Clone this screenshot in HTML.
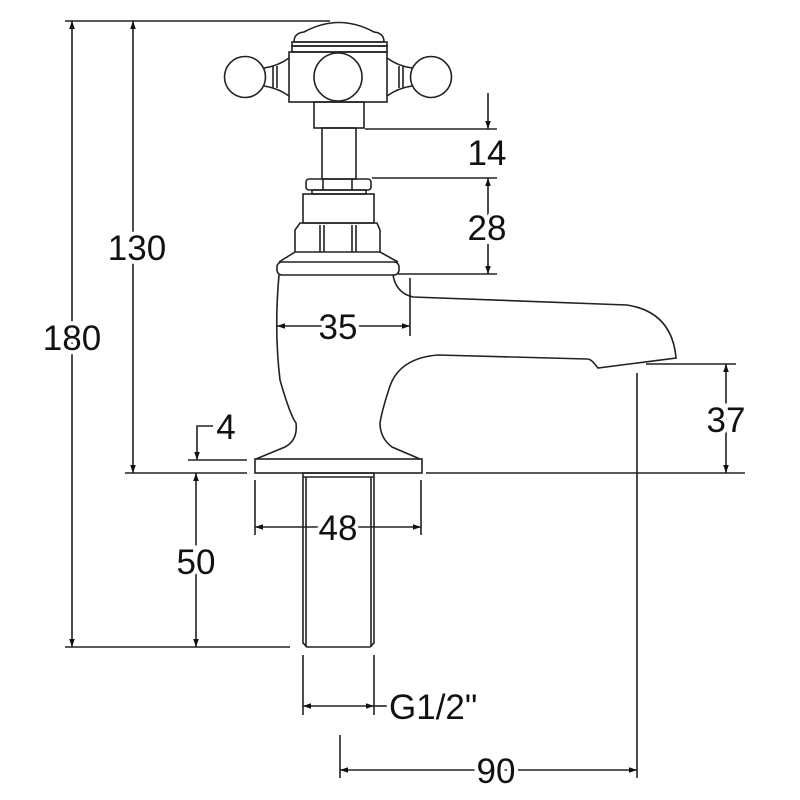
<!DOCTYPE html>
<html><head><meta charset="utf-8"><style>
html,body{margin:0;padding:0;background:#fff}
svg{display:block}
text{font-family:"Liberation Sans",sans-serif;font-size:35px;fill:#111}
</style></head><body>
<svg width="800" height="800" viewBox="0 0 800 800" xmlns="http://www.w3.org/2000/svg">
<defs>
<marker id="a" viewBox="0 0 10 10" refX="10" refY="5" markerWidth="18" markerHeight="8" markerUnits="userSpaceOnUse" orient="auto-start-reverse"><path d="M0,1.5 L10,5 L0,8.5 z" fill="#111"/></marker>
</defs>
<g stroke="#222" stroke-width="1.6" fill="none">
<line x1="65" y1="21" x2="330" y2="21"/>
<line x1="125" y1="473" x2="247" y2="473"/>
<line x1="426" y1="473" x2="745" y2="473"/>
<line x1="65" y1="647" x2="290" y2="647"/>
<line x1="188" y1="460" x2="247" y2="460"/>
<line x1="365" y1="129" x2="497" y2="129"/>
<line x1="372" y1="178" x2="497" y2="178"/>
<line x1="398" y1="274" x2="497" y2="274"/>
<line x1="646" y1="364" x2="736" y2="364"/>
<line x1="637" y1="373" x2="637" y2="778"/>
<line x1="410" y1="278" x2="410" y2="336"/>
<line x1="255" y1="480" x2="255" y2="535"/>
<line x1="421" y1="480" x2="421" y2="535"/>
<line x1="303" y1="655" x2="303" y2="715"/>
<line x1="374" y1="655" x2="374" y2="715"/>
<line x1="340" y1="735" x2="340" y2="778"/>
<line x1="72" y1="21" x2="72" y2="647" marker-start="url(#a)" marker-end="url(#a)"/>
<line x1="133" y1="21" x2="133" y2="473" marker-start="url(#a)" marker-end="url(#a)"/>
<line x1="196" y1="473" x2="196" y2="647" marker-start="url(#a)" marker-end="url(#a)"/>
<polyline points="213,426 197,426 197,460" marker-end="url(#a)"/>
<line x1="488" y1="93" x2="488" y2="129" marker-end="url(#a)"/>
<line x1="488" y1="178" x2="488" y2="274" marker-start="url(#a)" marker-end="url(#a)"/>
<line x1="726" y1="364" x2="726" y2="473" marker-start="url(#a)" marker-end="url(#a)"/>
<line x1="277" y1="326" x2="410" y2="326" marker-start="url(#a)" marker-end="url(#a)"/>
<line x1="255" y1="527" x2="421" y2="527" marker-start="url(#a)" marker-end="url(#a)"/>
<line x1="303" y1="706" x2="374" y2="706" marker-start="url(#a)" marker-end="url(#a)"/>
<line x1="374" y1="706" x2="388" y2="706"/>
<line x1="340" y1="770" x2="637" y2="770" marker-start="url(#a)" marker-end="url(#a)"/>

<path d="M294,42 Q294,33 304,32 Q339,13 374,32 Q384,33 384,42 Z"/>
<rect x="292" y="42" width="95" height="4"/>
<rect x="292" y="46" width="95" height="6"/>
<rect x="289" y="52" width="98" height="50"/>
<circle cx="338" cy="77" r="24"/>
<circle cx="245" cy="77" r="20.5"/>
<circle cx="431" cy="77" r="20.5"/>
<path d="M264,68 Q278,66 289,58 M264,86 Q278,88 289,96 M273,66 V88 M277,66 V88"/>
<path d="M412,68 Q398,66 387,58 M412,86 Q398,88 387,96 M403,66 V88 M399,66 V88"/>
<rect x="314" y="102" width="50" height="26"/>
<rect x="322" y="128" width="34" height="51"/>
<rect x="306" y="179" width="65" height="11" rx="3"/>
<line x1="323" y1="179" x2="323" y2="190"/><line x1="352" y1="179" x2="352" y2="190"/>
<rect x="312" y="190" width="54" height="4"/>
<rect x="303" y="194" width="71" height="29"/>
<path d="M300,223 H377 L380,230 V252 H295 V230 Z"/>
<path d="M320,225 V252 M324,225 V252 M352,225 V252 M356,225 V252"/>
<path d="M295,252 L279,262 M380,252 L398,262"/>
<rect x="277" y="262" width="122" height="13" rx="5"/>
<path d="M279,275 Q274,330 280,380 Q290,415 296,423 Q298,440 285,447 L256,459"/>
<path d="M393,275 Q396,293 413,297 L627,305 Q672,312 676,358 L598,368 L593,362 Q590,359 587,359 L438,355 Q400,358 390,386 Q382,410 380,423 Q380,438 392,447 L420,459"/>
<rect x="255" y="459" width="167" height="14"/>
<path d="M303,473 V643 L307,647 H370 L374,643 V473 Z"/>
<path d="M306,477 V647 M371,477 V647 M303,477 H374"/>
</g>
<g style="paint-order:stroke" stroke="#fff" stroke-width="8">
<text x="72" y="350" text-anchor="middle">180</text>
<text x="137" y="260" text-anchor="middle">130</text>
<text x="226" y="439" text-anchor="middle">4</text>
<text x="196" y="574" text-anchor="middle">50</text>
<text x="487" y="165" text-anchor="middle">14</text>
<text x="487" y="240" text-anchor="middle">28</text>
<text x="726" y="432" text-anchor="middle">37</text>
<text x="338" y="339" text-anchor="middle">35</text>
<text x="338" y="540" text-anchor="middle">48</text>
<text x="389" y="719">G1/2"</text>
<text x="496" y="783" text-anchor="middle">90</text>
</g>
</svg>
</body></html>
